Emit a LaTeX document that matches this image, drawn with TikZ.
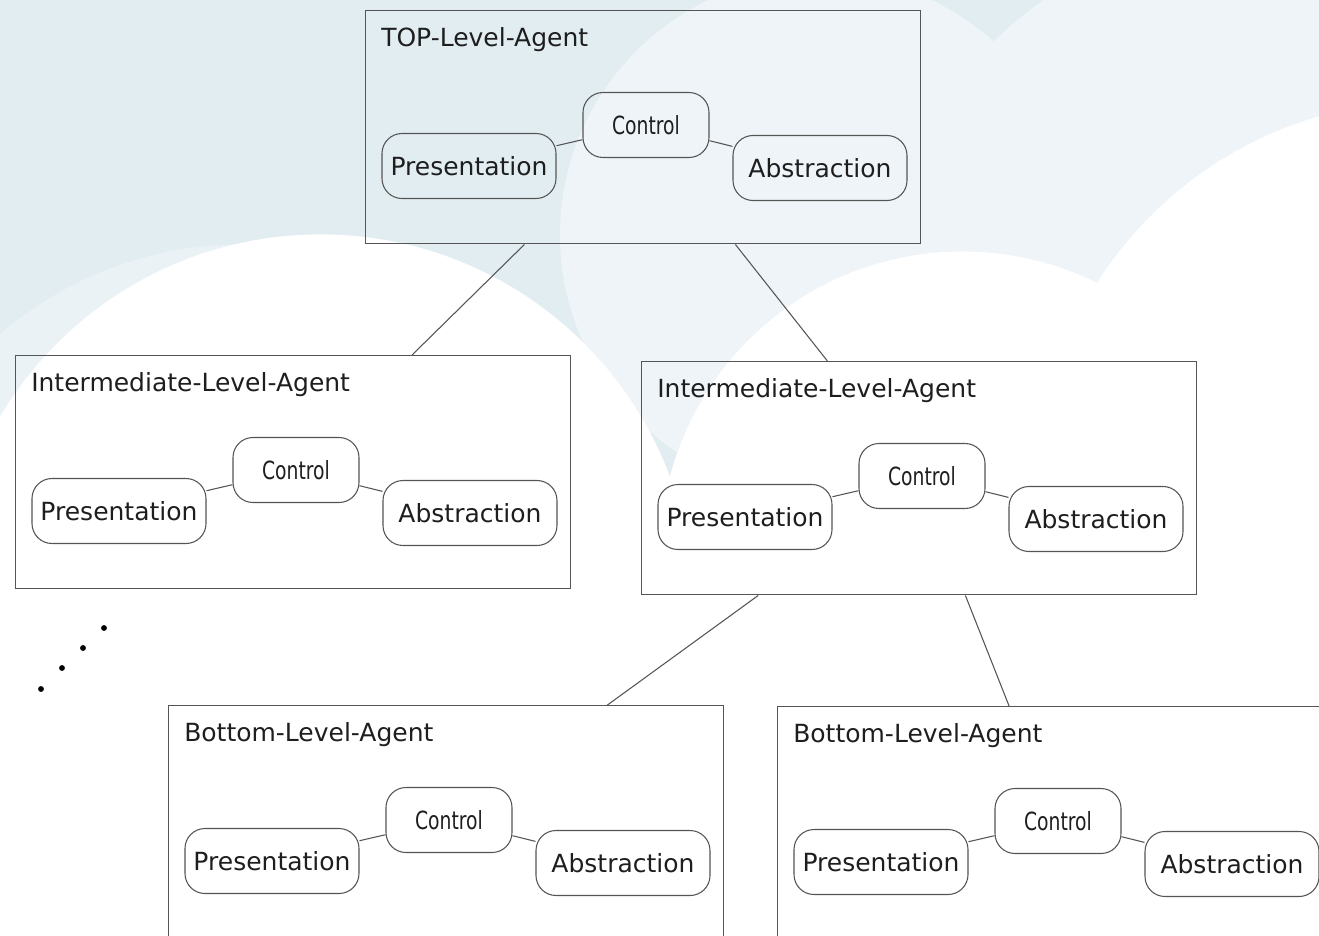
\documentclass[tikz,border=0pt]{standalone}
\usepackage{fontspec}
\setmainfont{DejaVu Sans}
\usepackage{graphicx}
\usetikzlibrary{calc}
\definecolor{bgdark}{RGB}{226,237,242}
\definecolor{bgmid}{RGB}{234,242,246}
\definecolor{bglight}{RGB}{239,244,248}
\definecolor{edgecol}{RGB}{85,85,85}
\definecolor{txtcol}{RGB}{30,30,30}
\newcommand\agentfont{\fontsize{18.75pt}{22pt}\selectfont}
\tikzset{
  agentbox/.style={draw=edgecol, line width=1.1pt, minimum width=555*0.75pt,
    minimum height=233*0.75pt, inner sep=0pt, anchor=north west},
  part/.style={draw=edgecol, line width=0.8pt, rounded corners=15pt,
    minimum height=65*0.75pt, inner sep=0pt, font=\agentfont, text=txtcol},
  widepart/.style={part, minimum width=174*0.75pt},
  ctrlpart/.style={part, minimum width=126*0.75pt},
  agenttitle/.style={anchor=base west, font=\agentfont, inner sep=0pt, text=txtcol},
  link/.style={draw=edgecol, line width=0.8pt},
}
\newcommand\mvcagent[4]{%
  \node[agentbox] (#1) at (#2,#3) {};
  \node[agenttitle] (#1-t) at ($(#1.north west)+(16,36)$) {#4};
  \node[ctrlpart] (#1-c) at ($(#1.north west)+(281,115)$) {\scalebox{0.75}[1]{Control}};
  \node[widepart] (#1-p) at ($(#1.north west)+(104,156)$) {Presentation};
  \node[widepart] (#1-a) at ($(#1.north west)+(455,158)$) {Abstraction};
  \draw[link] (#1-p) -- (#1-c);
  \draw[link] (#1-c) -- (#1-a);
}
\begin{document}
\begin{tikzpicture}[x=0.75pt,y=-0.75pt]
\useasboundingbox (0,0) rectangle (1319,935);
% background clouds
\fill[bgdark] (0,0) rectangle (1319,935);
\fill[bglight] (820,235) circle[radius=195pt];
\fill[bglight] (1250,300) circle[radius=273pt];
\fill[bgmid] (240,610) circle[radius=274pt];
\fill[white] (320.6,607.2) circle[radius=279.6pt];
\fill[white] (962.5,554) circle[radius=226.9pt];
\fill[white] (1428,493) circle[radius=294pt];
\fill[white] (-20,480) rectangle (1340,1020);
% agents
\mvcagent{top}{365}{10}{TOP-Level-Agent}
\mvcagent{il}{15}{355}{Intermediate-Level-Agent}
\mvcagent{ir}{641}{361}{Intermediate-Level-Agent}
\mvcagent{bl}{168}{705}{Bottom-Level-Agent}
\mvcagent{br}{777}{706}{Bottom-Level-Agent}
% hierarchy
\draw[link] (top) -- (il);
\draw[link] (top) -- (ir);
\draw[link] (ir) -- (bl);
\draw[link] (ir) -- (br);
% ellipsis dots
\foreach \px/\py in {104/628, 83/648, 62/668, 41/689}
  \fill[black] (\px,\py) circle[radius=2.2pt];
\end{tikzpicture}
\end{document}
